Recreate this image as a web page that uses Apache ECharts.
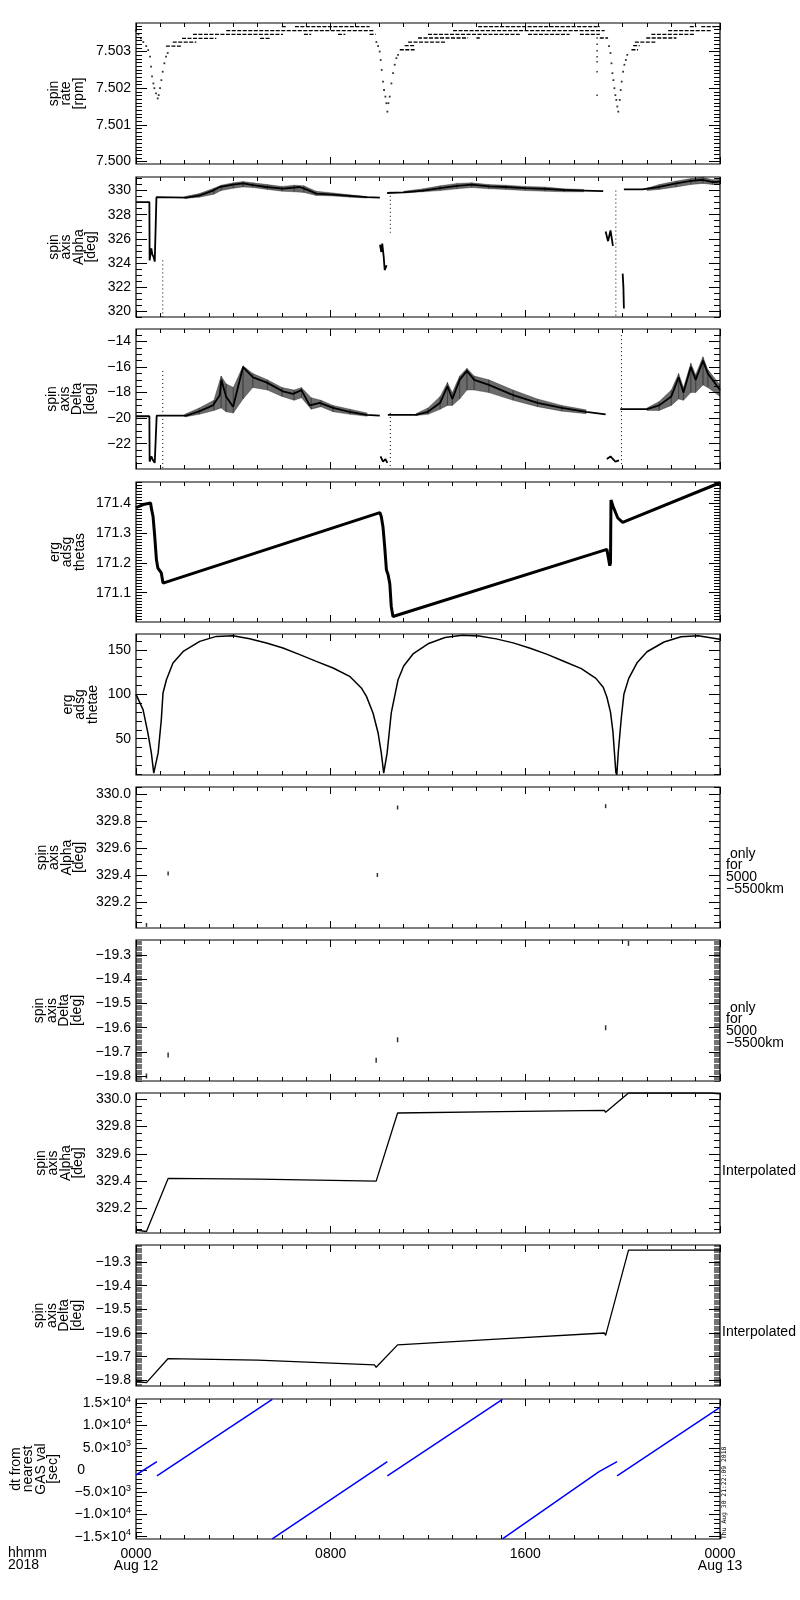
<!DOCTYPE html>
<html><head><meta charset="utf-8">
<script src="https://cdn.jsdelivr.net/npm/echarts@6/dist/echarts.min.js"></script>
<style>html,body{margin:0;padding:0;background:#fff}#c{width:800px;height:1600px}</style>
</head><body><div id="c"></div><script>
// ---------- time axis ----------
const timeLabels = ['0000\nAug 12', '0800', '1600', '0000\nAug 13'];

// ---------- panel 1 : spin rate [rpm] ----------
const rateTicks = [7.500, 7.501, 7.502, 7.503];
const rateDips = [
  [0.00,7.50357],[0.10,7.50347],[0.20,7.50336],[0.30,7.50326],[0.42,7.50315],[0.50,7.50304],[0.577,7.50286],[0.618,7.50259],[0.659,7.50232],[0.714,7.50213],[0.755,7.50200],[0.824,7.50186],[0.892,7.50172],[0.933,7.50181],[0.988,7.50200],[1.043,7.50222],[1.097,7.50245],[1.166,7.50268],[1.234,7.50286],[1.303,7.50296],
  [9.88,7.50326],[9.95,7.50315],[10.016,7.50300],[10.057,7.50277],[10.098,7.50250],[10.153,7.50218],[10.194,7.50195],[10.249,7.50177],[10.29,7.50159],[10.331,7.50136],[10.372,7.50159],[10.427,7.50177],[10.496,7.50213],[10.564,7.50241],[10.633,7.50264],[10.701,7.50282],[10.77,7.50291],
  [19.44,7.50315],[19.50,7.50296],[19.54,7.50268],[19.58,7.50241],[19.62,7.50222],[19.66,7.50200],[19.70,7.50181],[19.74,7.50168],[19.78,7.50150],[19.82,7.50136],[19.88,7.50168],[19.92,7.50195],[19.96,7.50218],[20.02,7.50245],[20.07,7.50264],[20.13,7.50277],[20.19,7.50291]
];
const rateOutliers = [[18.95,7.50337],[18.95,7.50320],[18.95,7.50302],[18.95,7.50286],[18.95,7.50272],[18.95,7.50245],[18.95,7.50181]];
const rateRuns = [
  [1.23,1.86,7.50315],[1.51,2.48,7.50326],[1.89,3.30,7.50336],[5.10,5.50,7.50336],[2.34,6.04,7.50347],[6.9,7.2,7.50347],[8.3,8.6,7.50347],[9.6,9.85,7.50347],[3.71,9.81,7.50357],[5.99,6.20,7.50368],[6.53,9.60,7.50368],
  [10.84,11.45,7.50305],[11.04,11.45,7.50316],[11.18,12.76,7.50326],[11.59,13.65,7.50337],[13.99,14.13,7.50337],[12.0,15.77,7.50347],[16.11,17.82,7.50347],[18.24,19.06,7.50347],[13.03,19.26,7.50357],[14.06,19.06,7.50368],[19.06,19.40,7.50337],
  [20.36,20.63,7.50305],[20.43,20.70,7.50316],[20.50,21.39,7.50326],[20.97,22.21,7.50337],[21.18,22.96,7.50347],[21.87,23.65,7.50357],[22.76,23.03,7.50368],[23.23,23.99,7.50368]
];

// ---------- panel 2 : spin axis Alpha [deg] ----------
const alphaTicks = [320, 322, 324, 326, 328, 330];
const alphaTrace = [
  [[0,329.05],[0.55,329.05],[0.56,324.2],[0.60,324.8],[0.63,325.2],[0.67,324.7],[0.72,324.5],[0.77,324.1],[0.83,324.1],[0.84,329.45],[2.07,329.42],[2.62,329.6],[3.16,330.0],[3.44,330.3],[3.99,330.5],[4.40,330.6],[4.81,330.45],[5.36,330.3],[6.04,330.16],[6.73,330.3],[7.0,330.1],[7.41,329.75],[8.10,329.67],[8.78,329.56],[9.47,329.45],[10.02,329.42]],
  [[10.03,325.5],[10.08,324.9],[10.12,325.6],[10.18,324.5],[10.22,323.4],[10.30,323.8]],
  [[10.32,329.8],[11.0,329.85],[11.8,330.0],[12.5,330.2],[13.2,330.4],[13.8,330.5],[14.5,330.35],[15.2,330.3],[16.0,330.2],[16.8,330.15],[17.6,330.05],[18.4,330.0],[19.2,329.95]],
  [[19.30,326.6],[19.40,325.8],[19.50,326.7],[19.60,325.4]],
  [[20.00,323.1],[20.03,322.0],[20.05,320.2]],
  [[20.05,330.1],[20.8,330.1],[21.5,330.3],[22.2,330.6],[22.8,330.8],[23.3,330.9],[23.7,330.7],[24,330.75]]
];
const alphaCloud = [
  [[2.0,329.35,329.5],[2.6,329.45,329.75],[3.2,329.7,330.2],[3.5,330.0,330.45],[4.0,330.2,330.65],[4.4,330.3,330.75],[4.8,330.25,330.65],[5.4,330.1,330.5],[6.0,329.95,330.35],[6.5,329.9,330.45],[6.9,329.85,330.4],[7.4,329.6,329.95],[8.1,329.55,329.8],[8.8,329.45,329.65],[9.5,329.38,329.5]],
  [[11.0,329.8,329.95],[11.8,329.9,330.15],[12.5,330.0,330.4],[13.2,330.15,330.6],[13.8,330.25,330.65],[14.5,330.15,330.5],[15.2,330.1,330.45],[16.0,330.0,330.35],[16.8,329.95,330.3],[17.6,329.9,330.15],[18.4,329.9,330.1]],
  [[21.0,330.0,330.2],[21.5,330.1,330.5],[22.2,330.3,330.8],[22.8,330.5,331.0],[23.3,330.6,331.1],[23.7,330.5,330.9],[24,330.5,330.95]]
];
const alphaDotted = [[[1.1,324.2],[1.1,319.5]],[[10.45,329.9],[10.45,326.5]],[[19.72,330.0],[19.72,319.5]]];

// ---------- panel 3 : spin axis Delta [deg] ----------
const deltaTicks = [-22, -20, -18, -16, -14];
const deltaTrace = [
  [[0,-19.85],[0.55,-19.85],[0.56,-23.4],[0.63,-23.0],[0.70,-23.3],[0.77,-23.5],[0.84,-23.4],[0.85,-19.8],[2.07,-19.8],[2.62,-19.45],[3.16,-19.0],[3.44,-18.2],[3.51,-17.0],[3.7,-18.3],[3.99,-19.1],[4.2,-17.5],[4.40,-16.0],[4.81,-16.8],[5.36,-17.2],[6.04,-17.9],[6.45,-18.1],[6.80,-17.8],[7.14,-19.0],[7.55,-18.8],[8.10,-19.2],[8.78,-19.5],[9.47,-19.75],[10.02,-19.8]],
  [[10.05,-23.0],[10.15,-23.4],[10.25,-23.2],[10.33,-23.5]],
  [[10.35,-19.75],[11.5,-19.75],[12.0,-19.5],[12.5,-18.8],[12.8,-17.5],[13.0,-18.5],[13.3,-17.0],[13.6,-16.3],[13.9,-17.0],[14.5,-17.4],[15.5,-18.2],[16.5,-18.8],[17.5,-19.2],[18.5,-19.5],[19.3,-19.7]],
  [[19.35,-23.2],[19.5,-23.0],[19.7,-23.4],[19.85,-23.3]],
  [[19.9,-19.3],[21.0,-19.3],[21.5,-19.0],[22.0,-18.3],[22.3,-16.8],[22.5,-18.0],[22.8,-16.0],[23.0,-17.0],[23.3,-15.5],[23.5,-16.5],[24,-17.8]]
];
const deltaCloud = [
  [[2.0,-19.9,-19.7],[2.6,-19.7,-19.2],[3.2,-19.4,-18.6],[3.5,-19.2,-16.7],[3.7,-19.5,-17.3],[4.0,-19.6,-17.6],[4.4,-18.5,-15.9],[4.8,-17.6,-16.5],[5.4,-17.8,-17.0],[6.0,-18.3,-17.6],[6.5,-18.6,-17.8],[6.8,-18.4,-17.6],[7.2,-19.3,-18.4],[7.6,-19.1,-18.6],[8.1,-19.5,-19.0],[8.8,-19.7,-19.3],[9.5,-19.85,-19.6]],
  [[11.5,-19.8,-19.65],[12.0,-19.7,-19.2],[12.5,-19.3,-18.3],[12.8,-19.0,-17.2],[13.0,-19.0,-18.0],[13.3,-18.5,-16.7],[13.6,-17.8,-16.1],[13.9,-17.8,-16.7],[14.5,-18.0,-17.0],[15.5,-18.6,-17.8],[16.5,-19.1,-18.5],[17.5,-19.45,-19.0],[18.5,-19.65,-19.35]],
  [[21.0,-19.4,-19.2],[21.5,-19.4,-18.7],[22.0,-19.0,-17.8],[22.3,-18.5,-16.5],[22.5,-18.6,-17.6],[22.8,-18.0,-15.7],[23.0,-18.0,-16.6],[23.3,-17.4,-15.2],[23.5,-17.6,-16.2],[24,-18.3,-17.4]]
];
const deltaDotted = [[[1.1,-16.3],[1.1,-24.0]],[[10.45,-19.6],[10.45,-23.8]],[[19.95,-13.5],[19.95,-23.8]]];

// ---------- panel 4 : erg adsg thetas ----------
const thetasTicks = [171.1, 171.2, 171.3, 171.4];
const thetasTrace = [[0,171.385],[0.3,171.395],[0.6,171.40],[0.63,171.383],[0.70,171.355],[0.77,171.288],[0.84,171.21],[0.90,171.182],[0.97,171.177],[1.04,171.166],[1.11,171.132],[10.02,171.368],[10.08,171.355],[10.15,171.32],[10.22,171.254],[10.29,171.177],[10.36,171.16],[10.43,171.13],[10.49,171.054],[10.56,171.02],[10.63,171.015],[19.35,171.245],[19.42,171.24],[19.47,171.19],[19.50,171.20],[19.52,171.41],[19.6,171.39],[19.8,171.35],[20.0,171.335],[24,171.468]];

// ---------- panel 5 : erg adsg thetae ----------
const thetaeTicks = [50, 100, 150];
const thetaeTrace = [[0,100],[0.29,82.8],[0.49,56.4],[0.63,34],[0.73,11.3],[0.80,9.5],[0.91,34],[1.04,71.4],[1.11,101.5],[1.25,116.5],[1.52,135.3],[1.94,148.4],[2.62,159.7],[3.30,165.3],[3.99,166.1],[4.67,162.7],[5.36,157.9],[6.04,152.2],[6.73,144.7],[7.41,137.2],[8.10,129.7],[8.78,120.3],[9.26,107.2],[9.47,97.7],[9.74,79],[9.95,56.4],[10.08,34],[10.18,11.3],[10.22,9.5],[10.32,34],[10.49,79],[10.77,116.5],[11.0,132],[11.4,146],[12.0,157],[12.7,164],[13.4,166.5],[14.1,165.8],[14.8,162.5],[15.5,158],[16.2,152],[16.9,145],[17.6,137],[18.3,129],[18.9,118],[19.2,108],[19.35,97],[19.5,80],[19.6,58],[19.66,35],[19.72,12],[19.76,9.5],[19.82,35],[19.95,75],[20.05,100],[20.25,118],[20.6,136],[21.0,148],[21.7,159],[22.4,165],[23.1,166],[23.8,163],[24,162]];

// ---------- panels 6,7 : values only for 5000-5500 km ----------
const alphaFineTicks = [329.2, 329.4, 329.6, 329.8, 330.0];
const deltaFineTicks = [-19.8, -19.7, -19.6, -19.5, -19.4, -19.3];
const alphaSelected = [[0.43,329.03],[1.32,329.41],[9.92,329.40],[10.75,329.90],[19.3,329.91],[20.24,330.045]];
const deltaSelected = [[0.43,-19.80],[1.32,-19.713],[9.87,-19.735],[10.75,-19.65],[19.3,-19.60],[20.24,-19.25]];

// ---------- panels 8,9 : interpolated ----------
const alphaInterp = [[0,329.04],[0.43,329.03],[1.32,329.42],[5,329.415],[9.87,329.40],[10.75,329.90],[15,329.91],[19.25,329.92],[19.3,329.905],[20.24,330.047],[23.6,330.047],[24,330.04]];
const deltaInterp = [[0,-19.805],[0.43,-19.81],[1.32,-19.708],[5,-19.715],[9.8,-19.735],[9.87,-19.745],[10.75,-19.65],[15,-19.625],[19.25,-19.60],[19.3,-19.61],[20.24,-19.25],[24,-19.25]];

// ---------- panel 10 : dt from nearest GAS val [sec] ----------
const dtTicks = [-15000, -10000, -5000, 0, 5000, 10000, 15000];
const dtTrace = [
  [[0,-1123],[0.86,1870]],
  [[0.86,-1348],[5.6,15900]],
  [[5.6,-15500],[10.33,1870]],
  [[10.33,-1348],[15.06,15900]],
  [[15.06,-15500],[19.03,-380],[19.77,1870]],
  [[19.77,-1348],[24,14100]]
];

// ================= layout / building =================
const FONT = 'Liberation Sans';
const PLOT_LEFT = 136, PLOT_W = 584;
function signed(dec){ return v => (v < -1e-9 ? '\u2212' : '') + Math.abs(v).toFixed(dec); }
function dtFmt(v){
  if (Math.abs(v) < 1e-9) return '0{sp| }';
  const e = Math.floor(Math.log10(Math.abs(v)) + 1e-9);
  const m = Math.abs(v) / Math.pow(10, e);
  return (v < 0 ? '\u2212' : '') + m.toFixed(1) + '\u00d710{e|' + e + '}';
}
// titleX = right edge of the rotated y-axis title block
const PANELS = [
  {top:23, h:141, min:7.49993, max:7.50378, majors:rateTicks, step:0.0001, mw:1, fmt:signed(3), title:'spin\nrate\n[rpm]', titleX:85},
  {top:177, h:140, min:319.5, max:331.13, majors:alphaTicks, step:0.5, mw:1, fmt:signed(0), title:'spin\naxis\nAlpha\n[deg]', titleX:97.5},
  {top:329, h:140, min:-23.98, max:-13.02, majors:deltaTicks, step:0.5, mw:1, fmt:signed(0), title:'spin\naxis\nDelta\n[deg]', titleX:96},
  {top:482, h:140, min:171.0017, max:171.4705, majors:thetasTicks, step:0.01, mw:1, fmt:signed(1), title:'erg\nadsg\nthetas', titleX:86},
  {top:634, h:141, min:9.1, max:168, majors:thetaeTicks, step:10, mw:1, fmt:signed(0), title:'erg\nadsg\nthetae', titleX:99},
  {top:787, h:141, min:329.007, max:330.052, majors:alphaFineTicks, step:0.05, mw:1, fmt:signed(1), title:'spin\naxis\nAlpha\n[deg]', titleX:85.5},
  {top:940, h:141, min:-19.821, max:-19.236, majors:deltaFineTicks, step:0.005, mw:0.55, fmt:signed(1), title:'spin\naxis\nDelta\n[deg]', titleX:83},
  {top:1093, h:140, min:329.019, max:330.047, majors:alphaFineTicks, step:0.05, mw:1, fmt:signed(1), title:'spin\naxis\nAlpha\n[deg]', titleX:84.5},
  {top:1245, h:141, min:-19.824, max:-19.228, majors:deltaFineTicks, step:0.005, mw:0.55, fmt:signed(1), title:'spin\naxis\nDelta\n[deg]', titleX:83},
  {top:1399, h:140, min:-15517, max:15967, majors:dtTicks, step:1000, mw:1, fmt:dtFmt, title:'dt from\nnearest\nGAS val\n[sec]', titleX:59.5}
];
function minorValues(min, max, step){
  const out = [];
  for (let k = Math.ceil(min/step - 1e-6); k*step <= max + 1e-9; k++) out.push(+(k*step).toFixed(6));
  return out;
}
function joinSegs(segs){
  const out = [];
  segs.forEach((s,k) => { if (k) out.push([s[0][0], '-']); s.forEach(p => out.push(p)); });
  return out;
}
const blackTick = {color:'#000', width:1};
const grid = [], xAxis = [], yAxis = [], series = [], graphic = [];
PANELS.forEach((p,i) => {
  const last = i === PANELS.length - 1;
  grid.push({left:PLOT_LEFT, width:PLOT_W, top:p.top, height:p.h, show:true, borderColor:'#000', borderWidth:1.2, backgroundColor:'rgba(0,0,0,0)'});
  ['bottom','top'].forEach(pos => xAxis.push({
    type:'value', gridIndex:i, position:pos, min:0, max:24, interval:8,
    axisLine:{show:false, onZero:false}, splitLine:{show:false},
    axisTick:{show:true, inside:true, length:7, lineStyle:blackTick},
    minorTick:{show:true, splitNumber:8, length:4, lineStyle:blackTick},
    axisLabel:{show: last && pos === 'bottom', interval:0, showMinLabel:true, showMaxLabel:true, hideOverlap:false,
      formatter: v => timeLabels[Math.round(v/8)], fontFamily:FONT, fontSize:14, lineHeight:12, color:'#000', margin:9}
  }));
  const minors = minorValues(p.min, p.max, p.step);
  ['left','right'].forEach(pos => {
    const lab = pos === 'left';
    yAxis.push({
      type:'value', gridIndex:i, position:pos, min:p.min, max:p.max,
      axisLine:{show:false, onZero:false}, splitLine:{show:false},
      axisTick:{show:true, inside:true, length:11, customValues:p.majors, lineStyle:blackTick},
      axisLabel:{show:lab, customValues:p.majors, formatter:p.fmt, fontFamily:FONT, fontSize:14, color:'#000', margin:5,
        rich:{e:{fontFamily:FONT, fontSize:9, padding:[0,0,8,0], color:'#000'}, sp:{width:46}}}
    });
    yAxis.push({
      type:'value', gridIndex:i, position:pos, min:p.min, max:p.max,
      axisLine:{show:false, onZero:false}, splitLine:{show:false},
      axisTick:{show:true, inside:true, length:6, customValues:minors, lineStyle:{color:'#000', width:p.mw}},
      axisLabel:{show:false}
    });
  });
  graphic.push({type:'text', x:p.titleX, y:p.top + p.h/2, rotation:Math.PI/2, silent:true,
    style:{text:p.title, fontFamily:FONT, fontSize:14, lineHeight:12.5, fill:'#000', align:'center', verticalAlign:'bottom'}});
});
function line(i, data, width, color, type){
  return {type:'line', xAxisIndex:2*i, yAxisIndex:4*i, data, showSymbol:false, symbol:'none', silent:true,
    animation:false, clip:true, lineStyle:{color:color||'#000', width:width||1, type:type||'solid'}};
}
function dots(i, data, size){
  return {type:'scatter', xAxisIndex:2*i, yAxisIndex:4*i, data, symbol:'rect', symbolSize:size||[2,2], silent:true,
    animation:false, clip:true, itemStyle:{color:'#000'}};
}
// scatter-cloud band: quads between consecutive [t, low, high] readings
function band(i, rows){
  return {type:'custom', xAxisIndex:2*i, yAxisIndex:4*i, data:rows, silent:true, animation:false, clip:true,
    encode:{x:0, y:[1,2]},
    renderItem:(params, api) => {
      const k = params.dataIndex;
      if (k >= rows.length - 1) return null;
      const a = rows[k], b = rows[k+1];
      const pts = [api.coord([a[0],a[2]]), api.coord([b[0],b[2]]), api.coord([b[0],b[1]]), api.coord([a[0],a[1]])];
      return {type:'polygon', shape:{points:pts}, style:{fill:'rgba(0,0,0,0.58)', stroke:'rgba(0,0,0,0.58)', lineWidth:0.5}};
    }};
}
// panel 1
series.push(line(0, joinSegs(rateRuns.map(r => [[r[0],r[2]],[r[1],r[2]]])), 1.3, '#000', [4,1.5]));
series.push(dots(0, rateDips, [1.8,1.8]));
series.push(dots(0, rateOutliers, [1.5,1.5]));
// panel 2
alphaCloud.forEach(c => series.push(band(1, c)));
series.push(line(1, joinSegs(alphaTrace), 1.8));
series.push(line(1, joinSegs(alphaDotted), 1, '#000', [1,3]));
// panel 3
deltaCloud.forEach(c => series.push(band(2, c)));
series.push(line(2, joinSegs(deltaTrace), 1.8));
series.push(line(2, joinSegs(deltaDotted), 1, '#000', [1,3]));
// panel 4, 5
series.push(line(3, thetasTrace, 3));
series.push(line(4, thetaeTrace, 1.5));
// panel 6, 7
series.push(dots(5, alphaSelected, [1.5,4]));
series.push(dots(6, deltaSelected, [1.5,5]));
// panel 8, 9
series.push(line(7, alphaInterp, 1.3));
series.push(line(8, deltaInterp, 1.3));
// panel 10
series.push(line(9, joinSegs(dtTrace), 1.5, '#0000ff'));

const txt = {fontFamily:FONT, fontSize:14, fill:'#000'};
graphic.push(
  {type:'text', left:8, top:1546, style:Object.assign({text:'hhmm\n2018', lineHeight:12}, txt)},
  {type:'text', x:726, y:848, style:Object.assign({text:' only\nfor\n5000\n\u22125500km', lineHeight:11.7}, txt)},
  {type:'text', x:726, y:1002, style:Object.assign({text:' only\nfor\n5000\n\u22125500km', lineHeight:11.7}, txt)},
  {type:'text', x:722, y:1164, style:Object.assign({text:'Interpolated', lineHeight:14}, txt)},
  {type:'text', x:722, y:1325, style:Object.assign({text:'Interpolated', lineHeight:14}, txt)},
  {type:'text', x:724.5, y:1539, rotation:Math.PI/2, style:{text:'Thu Aug 30 21:22:09 2018', fontFamily:'DejaVu Sans Mono', fontSize:6.4, fill:'#000', align:'left', verticalAlign:'middle'}}
);
const chart = echarts.init(document.getElementById('c'), null, {renderer:'canvas'});
chart.setOption({animation:false, backgroundColor:'#fff', textStyle:{fontFamily:FONT}, grid, xAxis, yAxis, series, graphic});
</script></body></html>
